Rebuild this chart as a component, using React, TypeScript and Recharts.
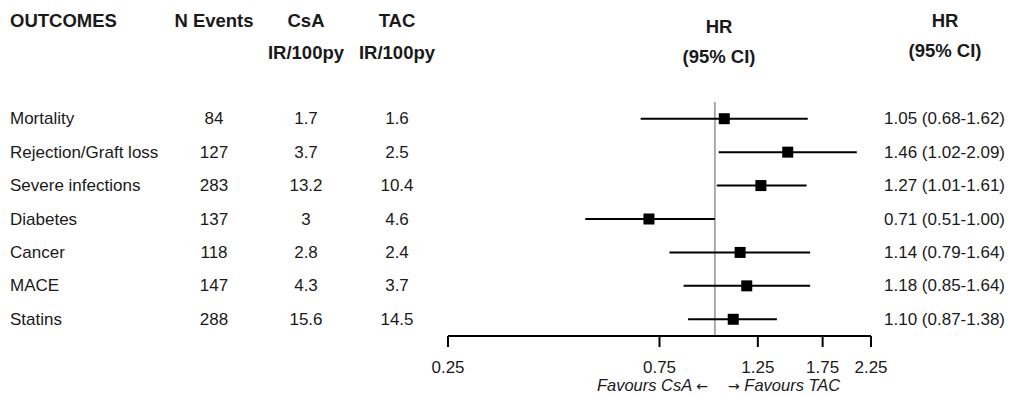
import React from 'react';
import {
  ScatterChart, Scatter, XAxis, YAxis, ErrorBar, ReferenceLine, Customized,
} from 'recharts';

const outcomes = ['Mortality', 'Rejection/Graft loss', 'Severe infections', 'Diabetes', 'Cancer', 'MACE', 'Statins'];
const nEvents = [84, 127, 283, 137, 118, 147, 288];
const csaIR = ['1.7', '3.7', '13.2', '3', '2.8', '4.3', '15.6'];
const tacIR = ['1.6', '2.5', '10.4', '4.6', '2.4', '3.7', '14.5'];
const hr = [1.05, 1.46, 1.27, 0.71, 1.14, 1.18, 1.10];
const lo = [0.68, 1.02, 1.01, 0.51, 0.79, 0.85, 0.87];
const hi = [1.62, 2.09, 1.61, 1.00, 1.64, 1.64, 1.38];
const xTicks = [0.25, 0.75, 1.25, 1.75, 2.25];

const FONT = '"Liberation Sans", Arial, sans-serif';
const INK = '#1a1a1a';

const data = outcomes.map((name, i) => ({
  row: i,
  name,
  hr: hr[i],
  err: [+(hr[i] - lo[i]).toFixed(4), +(hi[i] - hr[i]).toFixed(4)],
}));

const RowTick = ({ y, payload }: any) => {
  const i = payload.value;
  if (i < 0 || i >= outcomes.length) return null;
  const txt = `${hr[i].toFixed(2)} (${lo[i].toFixed(2)}-${hi[i].toFixed(2)})`;
  const common = { fontSize: 17, fill: INK, fontFamily: FONT, dominantBaseline: 'central' };
  return (
    <g>
      <text x={10} y={y} textAnchor="start" {...common}>{outcomes[i]}</text>
      <text x={214} y={y} textAnchor="middle" {...common}>{nEvents[i]}</text>
      <text x={306} y={y} textAnchor="middle" {...common}>{csaIR[i]}</text>
      <text x={397} y={y} textAnchor="middle" {...common}>{tacIR[i]}</text>
      <text x={1005} y={y} textAnchor="end" {...common}>{txt}</text>
    </g>
  );
};

const Headers = () => {
  const h = { fontSize: 18.5, fontWeight: 700, fill: INK, fontFamily: FONT };
  const f = { fontSize: 16.5, fontStyle: 'italic', fill: INK, fontFamily: FONT };
  return (
    <g>
      <text x={10} y={27} textAnchor="start" {...h}>OUTCOMES</text>
      <text x={214} y={27} textAnchor="middle" {...h}>N Events</text>
      <text x={306} y={27} textAnchor="middle" {...h}>CsA</text>
      <text x={306} y={59} textAnchor="middle" {...h}>IR/100py</text>
      <text x={397} y={27} textAnchor="middle" {...h}>TAC</text>
      <text x={397} y={59} textAnchor="middle" {...h}>IR/100py</text>
      <text x={719} y={33} textAnchor="middle" {...h}>HR</text>
      <text x={719} y={63} textAnchor="middle" {...h}>(95% CI)</text>
      <text x={945} y={27} textAnchor="middle" {...h}>HR</text>
      <text x={945} y={57} textAnchor="middle" {...h}>(95% CI)</text>
      <text x={708} y={391} textAnchor="end" {...f}>
        Favours CsA <tspan fontFamily='"DejaVu Sans", sans-serif' fontStyle="normal" fontSize={14}>←</tspan>
      </text>
      <text x={728} y={391} textAnchor="start" {...f}>
        <tspan fontFamily='"DejaVu Sans", sans-serif' fontStyle="normal" fontSize={14}>→</tspan> Favours TAC
      </text>
    </g>
  );
};

const Square = ({ cx, cy }: any) => (
  <rect x={cx - 5.5} y={cy - 5.5} width={11} height={11} fill="#000" />
);

export default function App() {
  return (
    <div style={{ position: 'absolute', left: 0, top: 0, width: 1026, height: 396, background: '#fff', fontFamily: FONT }}>
      <ScatterChart
        width={1026}
        height={396}
        margin={{ top: 102, right: 155, left: 0, bottom: 0 }}
      >
        <XAxis
          type="number"
          dataKey="hr"
          scale="log"
          domain={[0.25, 2.25]}
          ticks={xTicks}
          allowDataOverflow
          height={60}
          tickSize={11}
          tickMargin={14}
          axisLine={{ stroke: '#000', strokeWidth: 2 }}
          tickLine={{ stroke: '#000', strokeWidth: 2 }}
          tick={{ fontSize: 17, fill: INK, fontFamily: FONT }}
          tickFormatter={(v: number) => v.toFixed(2)}
        />
        <YAxis
          type="number"
          dataKey="row"
          domain={[-0.5, 6.5]}
          ticks={[0, 1, 2, 3, 4, 5, 6]}
          reversed
          width={448}
          axisLine={false}
          tickLine={false}
          tick={<RowTick />}
        />
        <ReferenceLine x={1} stroke="#aaaaaa" strokeWidth={2} />
        <Scatter data={data} shape={<Square />} isAnimationActive={false}>
          <ErrorBar dataKey="err" direction="x" width={0} stroke="#000" strokeWidth={2} isAnimationActive={false} />
        </Scatter>
        <Customized component={<Headers />} />
      </ScatterChart>
    </div>
  );
}
